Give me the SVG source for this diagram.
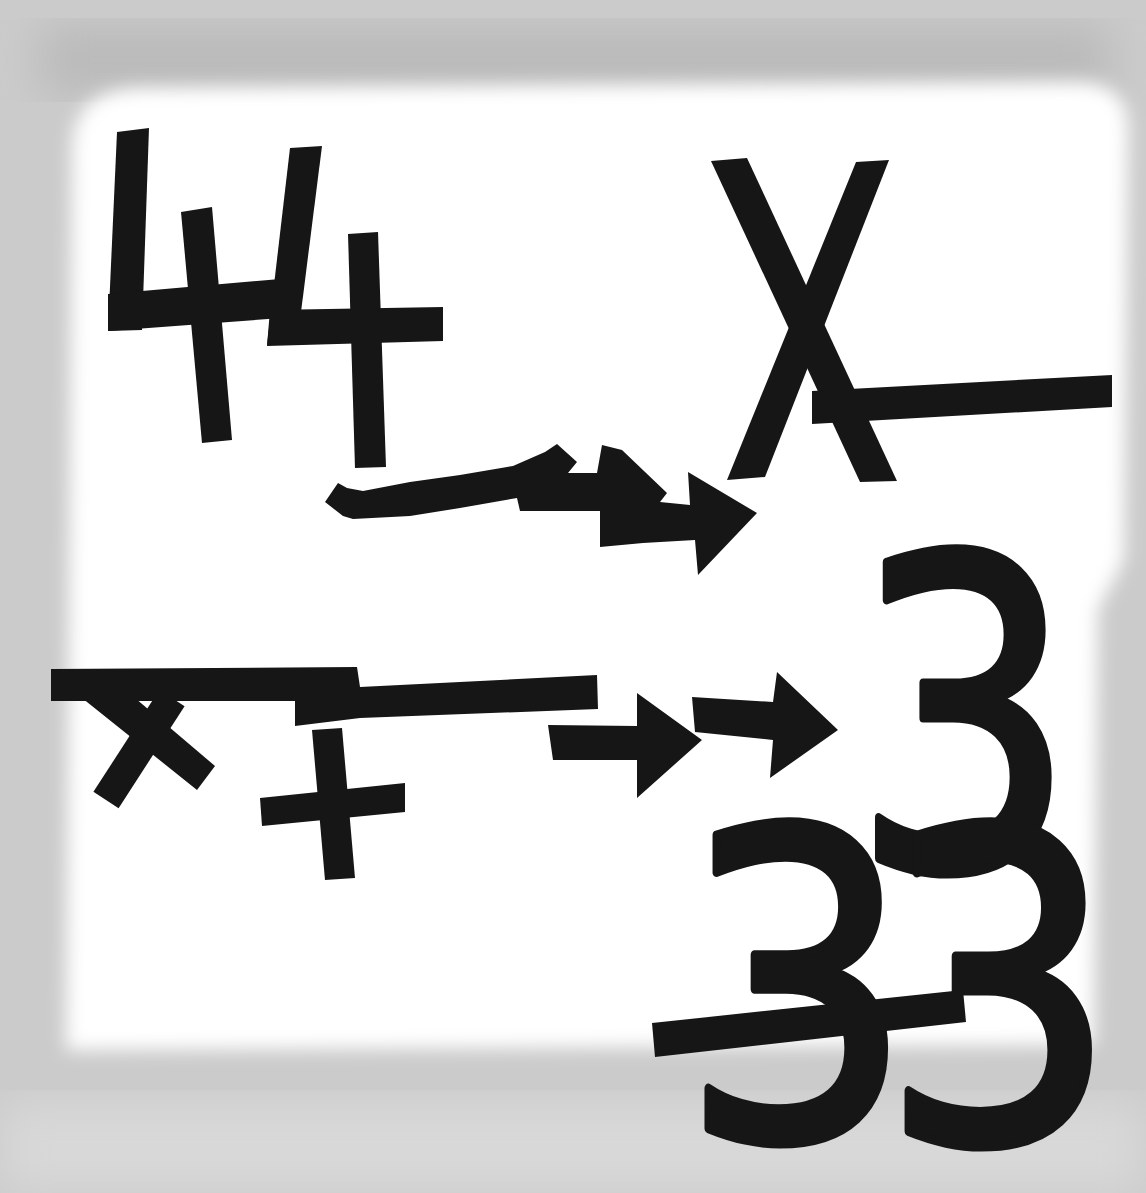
<svg xmlns="http://www.w3.org/2000/svg" width="1146" height="1193" viewBox="0 0 1146 1193">
  <defs>
    <filter id="soft" x="-10%" y="-10%" width="120%" height="120%">
      <feGaussianBlur stdDeviation="9"/>
    </filter>
    <filter id="soft2" x="-10%" y="-10%" width="120%" height="120%">
      <feGaussianBlur stdDeviation="22"/>
    </filter>
    <style>
      .tape { fill: #161616; }
      .tapeline { stroke: #161616; fill: none; }
      .digit { font-family: "DejaVu Sans", "Liberation Sans", sans-serif; font-weight: normal; fill: #161616; stroke: #161616; stroke-width: 9; stroke-linejoin: round; text-anchor: middle; }
    </style>
  </defs>

  <!-- paper background -->
  <g id="background">
    <rect x="0" y="0" width="1146" height="1193" fill="#cbcbcb"/>
    <rect x="40" y="25" width="1070" height="70" fill="#bababa" filter="url(#soft2)"/>
    <rect x="0" y="1100" width="1146" height="93" fill="#d8d8d8" filter="url(#soft2)"/>
    <path d="M 72 150 Q 72 90 140 88 L 1075 82 Q 1128 82 1128 130 L 1124 560 L 1098 610 L 1094 1045 L 66 1050 Z" fill="#ffffff" filter="url(#soft)"/>
  </g>

  <!-- first 4 -->
  <g id="four-1">
    <polygon class="tape" points="117,132 149,128 142,330 108,331"/>
    <polygon class="tape" points="108,294 280,279 282,318 108,331"/>
    <polygon class="tape" points="181,212 212,207 232,440 202,443"/>
  </g>

  <!-- second 4 -->
  <g id="four-2">
    <polygon class="tape" points="290,148 322,146 300,320 267,345"/>
    <polygon class="tape" points="270,310 443,307 443,341 267,346"/>
    <polygon class="tape" points="348,234 378,232 386,467 355,468"/>
  </g>

  <!-- X with bar -->
  <g id="x-minus">
    <polygon class="tape" points="711,161 747,158 897,481 860,482"/>
    <polygon class="tape" points="856,162 889,160 765,477 727,480"/>
    <polygon class="tape" points="812,391 1112,375 1112,407 812,424"/>
  </g>

  <!-- second row: bar, small x and plus -->
  <g id="x-plus">
    <polygon class="tape" points="51,669 357,667 360,687 597,675 598,709 360,718 295,726 295,701 51,701"/>
    <polygon class="tape" points="82,698 135,698 215,766 197,790"/>
    <line class="tapeline" x1="172" y1="698" x2="106" y2="800" stroke-width="30"/>
    <polygon class="tape" points="260,798 405,783 405,812 262,826"/>
    <polygon class="tape" points="312,730 342,728 355,878 325,880"/>
  </g>

  <!-- threes -->
  <g id="three-top">
    <text class="digit" transform="translate(964,868) scale(0.82,1)" x="0" y="0" font-size="430">3</text>
  </g>
  <g id="three-lower-left">
    <text class="digit" transform="translate(797,1138) scale(0.86,1)" x="0" y="0" font-size="426">3</text>
  </g>
  <g id="three-lower-right">
    <text class="digit" transform="translate(999,1141) scale(0.87,1)" x="0" y="0" font-size="430">3</text>
  </g>
  <g id="strike-bar">
    <polygon class="tape" points="652,1023 963,990 966,1022 655,1057"/>
  </g>

  <!-- connectors (tape arrows) -->
  <g id="connectors">
    <polygon class="tape" points="325,502 338,483 347,488 363,491 410,482 460,475 513,466 545,452 557,444 577,462 568,473 597,473 602,445 622,450 667,493 660,502 690,505 688,472 757,513 698,575 695,540 643,543 600,547 600,511 520,511 517,498 460,508 410,516 353,519 343,516"/>
    <polygon class="tape" points="548,725 637,726 637,693 702,740 637,798 637,760 553,760"/>
    <polygon class="tape" points="692,697 773,702 777,672 838,730 770,778 773,740 695,732"/>
  </g>
</svg>
